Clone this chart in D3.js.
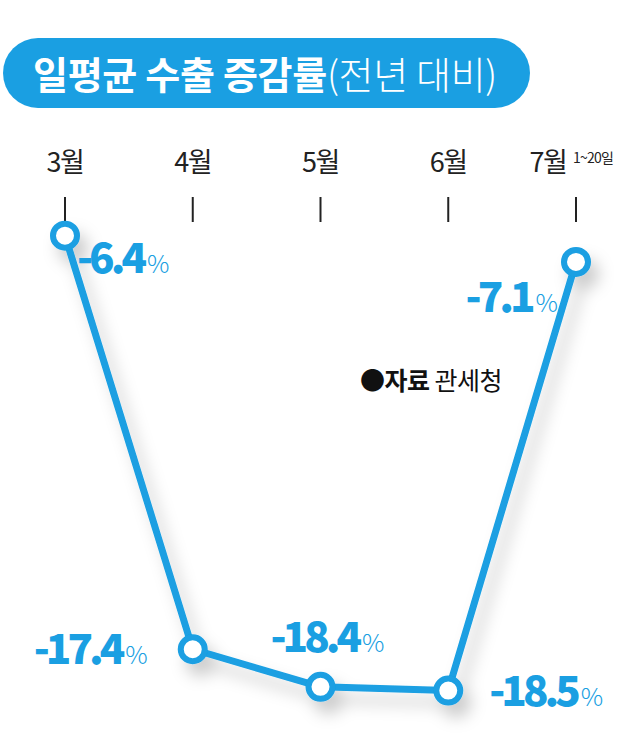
<!DOCTYPE html>
<html>
<head>
<meta charset="utf-8">
<script src="https://cdn.jsdelivr.net/npm/d3@7"></script>
<style>
  body { margin: 0; background: #fff; }
  svg { display: block; }
  text { font-family: "Noto Sans CJK KR", "Noto Sans", sans-serif; }
</style>
</head>
<body>
<div id="chart"></div>
<script>
// data
var months = ['3월', '4월', '5월', '6월', '7월'];
var values = [-6.4, -17.4, -18.4, -18.5, -7.1];
var monthNote = '1~20일';
var title = '일평균 수출 증감률';
var titleSub = '(전년 대비)';
var sourceLabel = '자료';
var sourceName = '관세청';

// label placement per point: [dx, dy, anchor]
var labelPos = [
  [12, 37, 'start'],
  [-45, 15, 'end'],
  [-50, -35, 'start'],
  [41, 15, 'start'],
  [-18, 50, 'end']
];

var W = 640, H = 754;
var BLUE = '#1a9fe2';

var svg = d3.select('#chart').append('svg')
  .attr('width', W)
  .attr('height', H);

var defs = svg.append('defs');
var f = defs.append('filter').attr('id', 'shadow')
  .attr('x', '-20%').attr('y', '-20%').attr('width', '140%').attr('height', '140%');
f.append('feDropShadow')
  .attr('dx', 8).attr('dy', 12)
  .attr('stdDeviation', 8)
  .attr('flood-color', '#000')
  .attr('flood-opacity', 0.2);

// title pill
svg.append('rect')
  .attr('x', 3).attr('y', 38)
  .attr('width', 527).attr('height', 70)
  .attr('rx', 35)
  .attr('fill', BLUE);

var t = svg.append('text')
  .attr('x', 33).attr('y', 89)
  .attr('fill', '#fff')
  .style('font-size', '38px')
  .style('letter-spacing', '-0.3px');
t.append('tspan').attr('font-weight', 700).text(title);
t.append('tspan').attr('font-weight', 300).text(titleSub);

var x = d3.scalePoint().domain(months).range([65, 576]);
var y = d3.scaleLinear().domain([0, -20]).range([-5, 747]);

// month labels (last one nudged left to make room for its note)
var mg = svg.append('g');
mg.selectAll('text.month')
  .data(months)
  .enter()
  .append('text')
  .attr('class', 'month')
  .attr('x', (d, i) => x(d) - (i === months.length - 1 ? 28 : 0))
  .attr('y', 172)
  .attr('text-anchor', 'middle')
  .attr('fill', '#222')
  .style('font-size', '27px')
  .style('letter-spacing', '-1.5px')
  .text(d => d);

mg.append('text')
  .attr('x', x(months[4]) - 3)
  .attr('y', 163)
  .attr('fill', '#222')
  .style('font-size', '14px')
  .style('letter-spacing', '-0.8px')
  .text(monthNote);

// tick marks
mg.selectAll('line.tick')
  .data(months)
  .enter()
  .append('line')
  .attr('x1', d => x(d)).attr('x2', d => x(d))
  .attr('y1', 197).attr('y2', 222)
  .attr('stroke', '#222')
  .attr('stroke-width', 2);

// source note
var s = svg.append('text')
  .attr('x', 360).attr('y', 390)
  .attr('fill', '#111')
  .style('font-size', '25px')
  .style('letter-spacing', '-0.5px');
s.append('tspan').attr('font-weight', 700).text('●' + sourceLabel);
s.append('tspan').attr('font-weight', 400).text(' ' + sourceName);

// line + points
var pts = months.map((m, i) => ({ m: m, v: values[i], i: i }));

var line = d3.line()
  .x(d => x(d.m))
  .y(d => y(d.v));

var lg = svg.append('g').attr('filter', 'url(#shadow)');
lg.append('path')
  .datum(pts)
  .attr('d', line)
  .attr('fill', 'none')
  .attr('stroke', BLUE)
  .attr('stroke-width', 7)
  .attr('stroke-linejoin', 'round');

lg.selectAll('circle')
  .data(pts)
  .enter()
  .append('circle')
  .attr('cx', d => x(d.m))
  .attr('cy', d => y(d.v))
  .attr('r', 12)
  .attr('fill', '#fff')
  .attr('stroke', BLUE)
  .attr('stroke-width', 6);

// value labels
var vl = svg.selectAll('text.val')
  .data(pts)
  .enter()
  .append('text')
  .attr('class', 'val')
  .attr('x', d => x(d.m) + labelPos[d.i][0])
  .attr('y', d => y(d.v) + labelPos[d.i][1])
  .attr('text-anchor', d => labelPos[d.i][2])
  .attr('fill', BLUE);
vl.append('tspan')
  .attr('font-weight', 900)
  .style('font-size', '42px')
  .style('letter-spacing', '-4px')
  .text(d => d.v.toFixed(1));
vl.append('tspan')
  .attr('dx', 4)
  .attr('font-weight', 300)
  .style('font-size', '25px')
  .text('%');
</script>
</body>
</html>
